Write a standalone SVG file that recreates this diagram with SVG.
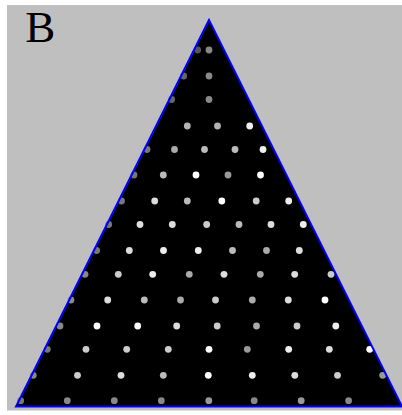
<svg xmlns="http://www.w3.org/2000/svg" width="402" height="415" viewBox="0 0 402 415">
<style>
circle{stroke:none}
.c5{fill:#555}.c6{fill:#666}.c7{fill:#777}.c8{fill:#888}.c9{fill:#999}.ca{fill:#aaa}.cb{fill:#bbb}.cb4{fill:#b4b4b4}.cc{fill:#ccc}.cd{fill:#ddd}.ce{fill:#eee}.cf{fill:#fff}
.lbl{font-family:"Liberation Serif","Times New Roman",serif;font-size:45px;fill:#000}
</style>
<rect x="0" y="0" width="402" height="415" fill="#ffffff"/>
<rect x="7" y="5" width="395" height="405.5" fill="#bfbfbf"/>
<text class="lbl" x="25.3" y="41.7">B</text>
<g id="triangle-fill">
<polygon points="209,20 16,406.5 402,406.5" fill="#000"/>
</g>
<g id="dots">
<circle class="c5" cx="197.7" cy="50" r="3.4"/><circle class="c8" cx="209" cy="50" r="3.4"/>
<circle class="c6" cx="183.7" cy="76" r="3.4"/><circle class="c8" cx="209" cy="76" r="3.4"/>
<circle class="c6" cx="171.7" cy="99.5" r="3.4"/><circle class="c8" cx="209" cy="99.5" r="3.4"/>
<circle class="cb4" cx="187.3" cy="126" r="3.4"/><circle class="cb4" cx="217.5" cy="126" r="3.4"/><circle class="ce" cx="249.7" cy="126" r="3.4"/>
<circle class="c7" cx="147" cy="149.5" r="3.4"/><circle class="ca" cx="174.5" cy="149.5" r="3.4"/><circle class="cb" cx="204.5" cy="149.5" r="3.4"/><circle class="cb" cx="235" cy="149.5" r="3.4"/><circle class="ce" cx="263" cy="149.5" r="3.4"/>
<circle class="c7" cx="134" cy="175" r="3.4"/><circle class="cb" cx="163.3" cy="175" r="3.4"/><circle class="cf" cx="196" cy="175" r="3.4"/><circle class="c9" cx="228" cy="175" r="3.4"/><circle class="cf" cx="260.5" cy="175" r="3.4"/>
<circle class="c7" cx="121.5" cy="201" r="3.4"/><circle class="cd" cx="154.7" cy="201" r="3.4"/><circle class="cb" cx="187.3" cy="201" r="3.4"/><circle class="cf" cx="221.8" cy="201" r="3.4"/><circle class="cc" cx="256.2" cy="201" r="3.4"/><circle class="ce" cx="288.7" cy="201" r="3.4"/>
<circle class="c7" cx="108.7" cy="224.5" r="3.4"/><circle class="cd" cx="140" cy="224.5" r="3.4"/><circle class="cd" cx="172.3" cy="224.5" r="3.4"/><circle class="cc" cx="206.7" cy="224.5" r="3.4"/><circle class="cb" cx="239" cy="224.5" r="3.4"/><circle class="cd" cx="271" cy="224.5" r="3.4"/><circle class="ce" cx="303.3" cy="224.5" r="3.4"/>
<circle class="c7" cx="96.7" cy="250.5" r="3.4"/><circle class="cd" cx="129.3" cy="250.5" r="3.4"/><circle class="ce" cx="163.5" cy="250.5" r="3.4"/><circle class="ce" cx="198.3" cy="250.5" r="3.4"/><circle class="cb" cx="232.5" cy="250.5" r="3.4"/><circle class="ca" cx="266.5" cy="250.5" r="3.4"/><circle class="cd" cx="299.3" cy="250.5" r="3.4"/>
<circle class="c8" cx="85" cy="274.3" r="3.4"/><circle class="cc" cx="118.3" cy="274.3" r="3.4"/><circle class="ce" cx="152.7" cy="274.3" r="3.4"/><circle class="ca" cx="189.3" cy="274.3" r="3.4"/><circle class="cd" cx="224" cy="274.3" r="3.4"/><circle class="ca" cx="260.3" cy="274.3" r="3.4"/><circle class="cd" cx="294.7" cy="274.3" r="3.4"/><circle class="cc" cx="331" cy="274.3" r="3.4"/>
<circle class="c8" cx="71" cy="300" r="3.4"/><circle class="cd" cx="107.7" cy="300" r="3.4"/><circle class="cb" cx="144.3" cy="300" r="3.4"/><circle class="ca" cx="180.5" cy="300" r="3.4"/><circle class="cc" cx="215.5" cy="300" r="3.4"/><circle class="ca" cx="252.3" cy="300" r="3.4"/><circle class="cd" cx="288.3" cy="300" r="3.4"/><circle class="cf" cx="325" cy="300" r="3.4"/>
<circle class="c8" cx="60" cy="326" r="3.4"/><circle class="cf" cx="97" cy="326" r="3.4"/><circle class="cf" cx="137.7" cy="326" r="3.4"/><circle class="cd" cx="176.7" cy="326" r="3.4"/><circle class="cc" cx="217.2" cy="326" r="3.4"/><circle class="ca" cx="256.5" cy="326" r="3.4"/><circle class="cc" cx="297" cy="326" r="3.4"/><circle class="ce" cx="335.8" cy="326" r="3.4"/>
<circle class="c7" cx="47.3" cy="349.3" r="3.4"/><circle class="cc" cx="86" cy="349.3" r="3.4"/><circle class="cc" cx="126.7" cy="349.3" r="3.4"/><circle class="cc" cx="168.3" cy="349.3" r="3.4"/><circle class="cf" cx="209" cy="349.3" r="3.4"/><circle class="c9" cx="247.3" cy="349.3" r="3.4"/><circle class="ce" cx="288.7" cy="349.3" r="3.4"/><circle class="cd" cx="329.3" cy="349.3" r="3.4"/><circle class="cf" cx="369.7" cy="349.3" r="3.4"/>
<circle class="c8" cx="33.3" cy="375.3" r="3.4"/><circle class="cc" cx="77.5" cy="375.3" r="3.4"/><circle class="cd" cx="121" cy="375.3" r="3.4"/><circle class="cb" cx="163.3" cy="375.3" r="3.4"/><circle class="cf" cx="208.3" cy="375.3" r="3.4"/><circle class="ce" cx="252.3" cy="375.3" r="3.4"/><circle class="cd" cx="294.8" cy="375.3" r="3.4"/><circle class="cc" cx="337.5" cy="375.3" r="3.4"/><circle class="c9" cx="382.7" cy="375.3" r="3.4"/>
<circle class="c7" cx="20.7" cy="400.7" r="3.4"/><circle class="c8" cx="67.3" cy="400.7" r="3.4"/><circle class="c8" cx="114.3" cy="400.7" r="3.4"/><circle class="c8" cx="161.3" cy="400.7" r="3.4"/><circle class="c9" cx="208.8" cy="400.7" r="3.4"/><circle class="c8" cx="254.2" cy="400.7" r="3.4"/><circle class="c9" cx="301.2" cy="400.7" r="3.4"/><circle class="c8" cx="348.6" cy="400.7" r="3.4"/>
</g>
<g id="triangle-outline">
<polygon points="209,20 16,406.5 402,406.5" fill="none" stroke="#0000ff" stroke-width="2" stroke-linejoin="miter"/>
</g>
</svg>
